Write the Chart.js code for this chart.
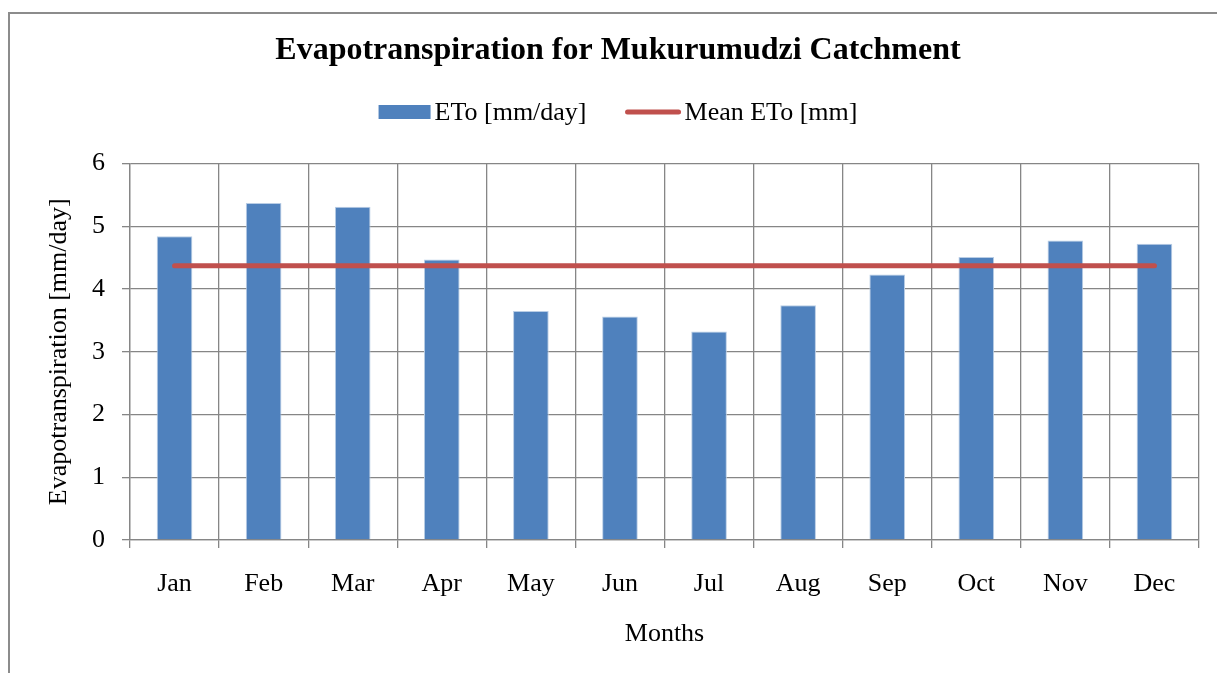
<!DOCTYPE html>
<html>
<head>
<meta charset="utf-8">
<title>Evapotranspiration for Mukurumudzi Catchment</title>
<script src="https://cdn.jsdelivr.net/npm/chart.js@4/dist/chart.umd.min.js"></script>
<style>
  html, body { margin: 0; padding: 0; background: #fff; }
  #wrap { width: 1217px; height: 673px; position: relative; }
</style>
</head>
<body>
<div id="wrap"><canvas id="etoChart"></canvas></div>
<script>
// ── DATA ──
const months = ['Jan', 'Feb', 'Mar', 'Apr', 'May', 'Jun', 'Jul', 'Aug', 'Sep', 'Oct', 'Nov', 'Dec'];
const etoValues = [4.84, 5.37, 5.31, 4.47, 3.65, 3.56, 3.32, 3.74, 4.23, 4.51, 4.77, 4.72];
const meanEto = [4.37, 4.37, 4.37, 4.37, 4.37, 4.37, 4.37, 4.37, 4.37, 4.37, 4.37, 4.37];
const yTicks = [0, 1, 2, 3, 4, 5, 6];

const SERIF = "'Liberation Serif', 'Times New Roman', serif";
const GRID = '#868686';

// outer frame, like the excel chart border
const framePlugin = {
  id: 'frame',
  beforeDraw(chart) {
    const c = chart.ctx;
    c.save();
    c.strokeStyle = '#8c8c8c';
    c.lineWidth = 2;
    c.beginPath();
    c.moveTo(9, chart.height);
    c.lineTo(9, 13);
    c.lineTo(chart.width, 13);
    c.stroke();
    c.restore();
  }
};

// legend drawn by hand so it can sit between title and plot
const legendPlugin = {
  id: 'handLegend',
  afterDraw(chart) {
    const c = chart.ctx;
    const ds = chart.data.datasets;
    const y = 112;
    c.save();
    c.font = '26px ' + SERIF;
    c.textBaseline = 'middle';
    c.fillStyle = '#000';
    const w0 = c.measureText(ds[0].label).width;
    const w1 = c.measureText(ds[1].label).width;
    const total = 52 + 4 + w0 + 39 + 55 + 4 + w1;
    let x = 618 - total / 2;
    c.fillStyle = ds[0].backgroundColor;
    c.fillRect(x, y - 7, 52, 14);
    x += 56;
    c.fillStyle = '#000';
    c.fillText(ds[0].label, x, y + 1);
    x += w0 + 39;
    c.strokeStyle = ds[1].borderColor;
    c.lineWidth = 5;
    c.lineCap = 'round';
    c.beginPath();
    c.moveTo(x + 2, y);
    c.lineTo(x + 53, y);
    c.stroke();
    x += 59;
    c.fillText(ds[1].label, x, y + 1);
    c.restore();
  }
};

new Chart(document.getElementById('etoChart'), {
  data: {
    labels: months,
    datasets: [
      {
        type: 'bar',
        label: 'ETo [mm/day]',
        data: etoValues,
        backgroundColor: '#4F81BD',
        borderColor: '#B9CDE5',
        borderWidth: 1,
        barPercentage: 0.4,
        categoryPercentage: 1,
        order: 2
      },
      {
        type: 'line',
        label: 'Mean ETo [mm]',
        data: meanEto,
        borderColor: '#C0504D',
        backgroundColor: '#C0504D',
        borderWidth: 5,
        borderCapStyle: 'round',
        pointRadius: 0,
        fill: false,
        order: 1
      }
    ]
  },
  options: {
    responsive: true,
    maintainAspectRatio: false,
    animation: false,
    layout: { padding: { left: 37, right: 18, top: 0, bottom: 0 } },
    plugins: {
      legend: { display: false },
      tooltip: { enabled: false },
      title: {
        display: true,
        text: 'Evapotranspiration for Mukurumudzi Catchment',
        color: '#000',
        font: { family: SERIF, size: 32, weight: 'bold' },
        padding: { top: 32, bottom: 93 }
      }
    },
    scales: {
      x: {
        grid: { color: GRID, lineWidth: 1.3, tickLength: 8, offset: true },
        border: { color: GRID, width: 1.3 },
        ticks: { color: '#000', font: { family: SERIF, size: 26 }, padding: 21 },
        title: {
          display: true,
          text: 'Months',
          color: '#000',
          font: { family: SERIF, size: 26 },
          padding: { top: 0, bottom: 23 }
        },
        afterFit: s => { s.height = 133; }
      },
      y: {
        min: 0,
        max: 6,
        afterBuildTicks: s => { s.ticks = yTicks.map(v => ({ value: v })); },
        grid: { color: GRID, lineWidth: 1.3, tickLength: 8 },
        border: { color: GRID, width: 1.3 },
        ticks: { color: '#000', font: { family: SERIF, size: 26 }, padding: 17 },
        title: {
          display: true,
          text: 'Evapotranspiration [mm/day]',
          color: '#000',
          font: { family: SERIF, size: 26 },
          padding: { top: 7, bottom: 0 }
        },
        afterFit: s => { s.width = 93; }
      }
    }
  },
  plugins: [framePlugin, legendPlugin]
});
</script>
</body>
</html>
